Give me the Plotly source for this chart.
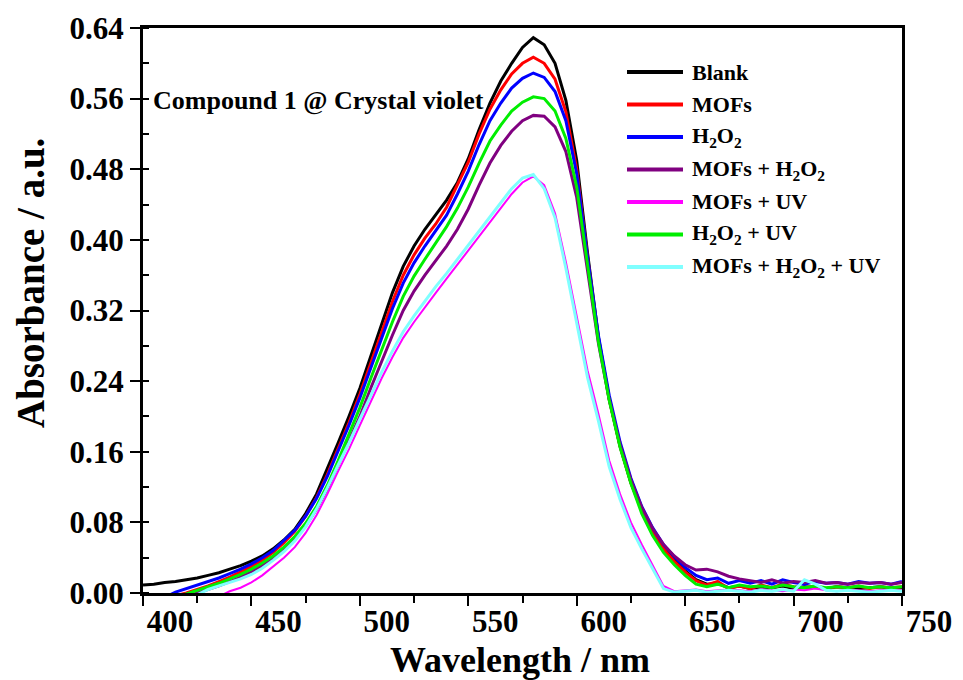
import plotly.graph_objects as go

# Wavelength grid (nm)
wavelength = list(range(400, 755, 5))

blank = [0.009, 0.010, 0.012, 0.013, 0.015, 0.017, 0.020, 0.023, 0.027, 0.031,
         0.036, 0.042, 0.050, 0.060, 0.072, 0.090, 0.112, 0.140, 0.170, 0.200,
         0.232, 0.268, 0.305, 0.340, 0.370, 0.393, 0.412, 0.428, 0.445, 0.465,
         0.492, 0.525, 0.555, 0.580, 0.600, 0.618, 0.629, 0.621, 0.600, 0.558,
         0.490, 0.385, 0.290, 0.220, 0.166, 0.125, 0.094, 0.070, 0.051, 0.038,
         0.025, 0.015, 0.010, 0.011, 0.006, 0.008, 0.005, 0.007, 0.006, 0.008,
         0.005, 0.007, 0.006, 0.005, 0.007, 0.006, 0.005, 0.006, 0.007, 0.005,
         0.006]

mofs = [-0.012, -0.009, -0.006, -0.003, 0.000, 0.004, 0.008, 0.013, 0.018, 0.024,
        0.030, 0.037, 0.046, 0.057, 0.070, 0.087, 0.108, 0.134, 0.163, 0.193,
        0.225, 0.260, 0.297, 0.330, 0.360, 0.383, 0.402, 0.418, 0.437, 0.462,
        0.488, 0.520, 0.548, 0.570, 0.588, 0.600, 0.607, 0.600, 0.582, 0.545,
        0.480, 0.380, 0.288, 0.219, 0.166, 0.125, 0.093, 0.069, 0.050, 0.036,
        0.024, 0.014, 0.009, 0.013, 0.005, 0.008, 0.005, 0.009, 0.006, 0.010,
        0.007, 0.006, 0.008, 0.005, 0.007, 0.006, 0.008, 0.005, 0.007, 0.006,
        0.007]

h2o2 = [-0.015, -0.010, -0.005, 0.001, 0.005, 0.009, 0.013, 0.017, 0.022, 0.027,
        0.033, 0.040, 0.048, 0.059, 0.071, 0.087, 0.107, 0.132, 0.160, 0.190,
        0.221, 0.255, 0.290, 0.322, 0.351, 0.374, 0.393, 0.410, 0.428, 0.452,
        0.478, 0.508, 0.535, 0.555, 0.572, 0.583, 0.589, 0.584, 0.568, 0.535,
        0.475, 0.380, 0.292, 0.224, 0.171, 0.130, 0.098, 0.074, 0.055, 0.041,
        0.029, 0.020, 0.015, 0.017, 0.011, 0.014, 0.011, 0.014, 0.010, 0.015,
        0.012, 0.010, 0.013, 0.011, 0.012, 0.010, 0.013, 0.011, 0.012, 0.010,
        0.013]

mofs_h2o2 = [-0.025, -0.020, -0.015, -0.010, -0.004, 0.000, 0.004, 0.008, 0.013, 0.018,
             0.024, 0.031, 0.039, 0.049, 0.061, 0.076, 0.095, 0.118, 0.145, 0.172,
             0.200, 0.232, 0.263, 0.292, 0.320, 0.342, 0.360, 0.376, 0.393, 0.412,
             0.435, 0.462, 0.487, 0.507, 0.523, 0.535, 0.541, 0.540, 0.528, 0.500,
             0.448, 0.365, 0.283, 0.219, 0.168, 0.128, 0.097, 0.073, 0.055, 0.042,
             0.032, 0.026, 0.027, 0.024, 0.019, 0.016, 0.014, 0.012, 0.015, 0.011,
             0.013, 0.012, 0.014, 0.011, 0.012, 0.010, 0.012, 0.011, 0.012, 0.010,
             0.012]

mofs_uv = [-0.040, -0.035, -0.030, -0.025, -0.020, -0.015, -0.010, -0.004, 0.002, 0.006,
           0.012, 0.020, 0.030, 0.040, 0.052, 0.068, 0.088, 0.112, 0.138, 0.163,
           0.190, 0.217, 0.243, 0.267, 0.289, 0.307, 0.324, 0.340, 0.356, 0.372,
           0.388, 0.404, 0.420, 0.437, 0.452, 0.465, 0.472, 0.462, 0.430, 0.375,
           0.315, 0.252, 0.203, 0.150, 0.112, 0.080, 0.055, 0.032, 0.008, 0.002,
           0.003, 0.004, 0.002, 0.003, 0.004, 0.003, 0.002, 0.004, 0.003, 0.002,
           0.004, 0.003, 0.005, 0.003, 0.002, 0.004, 0.003, 0.002, 0.003, 0.004,
           0.003]

h2o2_uv = [-0.020, -0.015, -0.010, -0.005, -0.001, 0.003, 0.007, 0.011, 0.016, 0.021,
           0.027, 0.034, 0.042, 0.052, 0.064, 0.079, 0.098, 0.122, 0.150, 0.179,
           0.210, 0.243, 0.276, 0.307, 0.336, 0.359, 0.378, 0.396, 0.415, 0.436,
           0.460, 0.487, 0.512, 0.530, 0.546, 0.556, 0.562, 0.560, 0.546, 0.515,
           0.460, 0.372, 0.285, 0.218, 0.165, 0.124, 0.090, 0.065, 0.046, 0.032,
           0.020, 0.010, 0.007, 0.010, 0.006, 0.009, 0.007, 0.008, 0.006, 0.009,
           0.007, 0.006, 0.008, 0.006, 0.007, 0.006, 0.008, 0.006, 0.007, 0.006,
           0.007]

mofs_h2o2_uv = [-0.030, -0.025, -0.020, -0.014, -0.008, -0.002, 0.004, 0.008, 0.012, 0.016,
                0.021, 0.028, 0.037, 0.047, 0.059, 0.075, 0.095, 0.119, 0.145, 0.170,
                0.197, 0.224, 0.250, 0.274, 0.296, 0.314, 0.331, 0.347, 0.362, 0.378,
                0.394, 0.410, 0.426, 0.443, 0.458, 0.470, 0.474, 0.458, 0.425, 0.368,
                0.306, 0.244, 0.195, 0.143, 0.106, 0.074, 0.050, 0.028, 0.005, 0.001,
                0.002, 0.003, 0.001, 0.002, 0.003, 0.002, 0.001, 0.003, 0.002, 0.004,
                0.002, 0.015, 0.010, 0.003, 0.002, 0.003, 0.002, 0.001, 0.002, 0.003,
                0.002]

series_names = ["Blank", "MOFs", "H<sub>2</sub>O<sub>2</sub>",
                "MOFs + H<sub>2</sub>O<sub>2</sub>", "MOFs + UV",
                "H<sub>2</sub>O<sub>2</sub> + UV",
                "MOFs + H<sub>2</sub>O<sub>2</sub> + UV"]
series_values = [blank, mofs, h2o2, mofs_h2o2, mofs_uv, h2o2_uv, mofs_h2o2_uv]
series_colors = ["#000000", "#ff0000", "#0000ff", "#800080", "#ff00ff",
                 "#00ee00", "#80ffff"]
series_widths = [3, 3, 3, 3, 2, 3, 3]

x_ticks = [400, 450, 500, 550, 600, 650, 700, 750]
y_ticks = [0.00, 0.08, 0.16, 0.24, 0.32, 0.40, 0.48, 0.56, 0.64]

FONT = "Liberation Serif"

fig = go.Figure()
for name, vals, col, w in zip(series_names, series_values, series_colors, series_widths):
    fig.add_trace(go.Scatter(x=wavelength, y=vals, mode="lines", name=name,
                             line=dict(color=col, width=w), showlegend=False))

# Plot-area pixel geometry used for the hand-built legend
W, H = 963, 680
ML, MR, MT, MB = 143, 61, 28, 87
PW, PH = W - ML - MR, H - MT - MB


def px(xp):
    return (xp - ML) / PW


def py(yp):
    return (H - MB - yp) / PH


shapes = []
annotations = []
for i, (name, col) in enumerate(zip(series_names, series_colors)):
    yrow = 72 + 32.5 * i
    shapes.append(dict(type="line", xref="paper", yref="paper",
                       x0=px(627), x1=px(683), y0=py(yrow), y1=py(yrow),
                       line=dict(color=col, width=4)))
    annotations.append(dict(text=name, xref="paper", yref="paper",
                            x=px(690), y=py(yrow), xanchor="left", yanchor="middle",
                            showarrow=False,
                            font=dict(family=FONT, size=22, color="black", weight="bold")))

annotations.append(dict(text="Compound 1 @ Crystal violet", xref="paper", yref="paper",
                        x=px(151), y=py(100), xanchor="left", yanchor="middle",
                        showarrow=False,
                        font=dict(family=FONT, size=26, color="black", weight="bold")))
annotations.append(dict(text="Absorbance / a.u.", xref="paper", yref="paper",
                        x=px(30), y=py(283), xanchor="center", yanchor="middle",
                        textangle=-90, showarrow=False,
                        font=dict(family=FONT, size=39, color="black", weight="bold")))
annotations.append(dict(text="Wavelength / nm", xref="paper", yref="paper",
                        x=px(520), y=py(660), xanchor="center", yanchor="middle",
                        showarrow=False,
                        font=dict(family=FONT, size=36, color="black", weight="bold")))

fig.update_layout(
    width=W, height=H, autosize=False,
    margin=dict(l=ML, r=MR, t=MT, b=MB, pad=0),
    paper_bgcolor="white", plot_bgcolor="white",
    shapes=shapes, annotations=annotations,
    xaxis=dict(range=[400, 750], tickvals=x_ticks, ticktext=[str(v) for v in x_ticks],
               ticks="outside", ticklen=10, tickwidth=2, tickcolor="black",
               ticklabelshift=27, ticklabelstandoff=-11,
               minor=dict(dtick=25, ticks="outside", ticklen=7, tickwidth=2, tickcolor="black"),
               showline=True, linewidth=3, linecolor="black", mirror=True,
               showgrid=False, zeroline=False,
               tickfont=dict(family=FONT, size=31, color="black", weight="bold")),
    yaxis=dict(range=[0, 0.64], tickvals=y_ticks, ticktext=[f"{v:.2f}" for v in y_ticks],
               ticks="outside", ticklen=10, tickwidth=2, tickcolor="black",
               minor=dict(dtick=0.04, ticks="inside", ticklen=6, tickwidth=2, tickcolor="black"),
               showline=True, linewidth=3, linecolor="black", mirror=True,
               showgrid=False, zeroline=False,
               tickfont=dict(family=FONT, size=31, color="black", weight="bold")),
)

fig.write_html("out.html")
